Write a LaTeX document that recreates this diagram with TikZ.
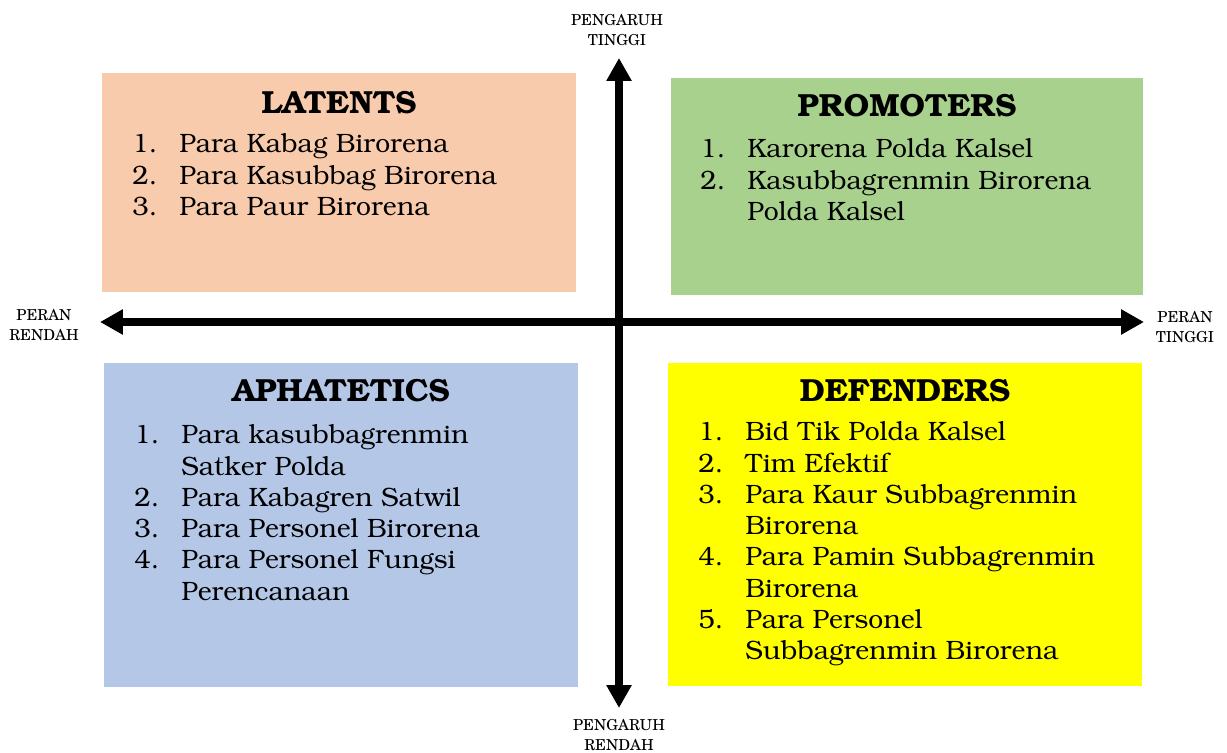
\documentclass[tikz,border=0pt]{standalone}
\usepackage[T1]{fontenc}
\usepackage{bookman}
\usepackage{xcolor}
\usetikzlibrary{arrows.meta,positioning}
\definecolor{latentfill}{HTML}{F8CBAD}
\definecolor{promotfill}{HTML}{A9D18E}
\definecolor{aphatfill}{HTML}{B4C7E7}
\definecolor{defendfill}{HTML}{FFFF00}
\newcommand{\nr}[1]{\makebox[0.94cm][l]{#1}}
\newcommand{\hang}{\hspace*{0.94cm}}
\begin{document}
\begin{tikzpicture}[x=0.02cm,y=-0.02cm,
    quad/.style={anchor=north west,inner sep=0pt,outer sep=0pt,minimum width=9.48cm},
    heading/.style={inner sep=0pt,font=\fontsize{18.2}{21}\selectfont\bfseries},
    items/.style={anchor=north west,align=left,inner sep=0pt,font=\fontsize{15.1}{17.8}\selectfont},
    axislabel/.style={align=center,inner sep=0pt,font=\fontfamily{pnc}\fontsize{8.6}{11.2}\selectfont},
    axis/.style={line width=4pt,{Triangle[length=0.46cm,width=0.48cm]}-{Triangle[length=0.46cm,width=0.48cm]}}]

    \useasboundingbox (0,0) rectangle (1227,753);

    % the four quadrants
    \node[quad,fill=latentfill,minimum height=4.38cm] (latent) at (102,73) {};
    \node[quad,fill=promotfill,minimum width=9.44cm,minimum height=4.34cm] (promot) at (671,78) {};
    \node[quad,fill=aphatfill,minimum height=6.48cm] (aphat) at (104,363) {};
    \node[quad,fill=defendfill,minimum height=6.46cm] (defend) at (668,363) {};

    % headings
    \node[heading] (tlatent) at (339,103) {LATENTS};
    \node[heading] (tpromot) at (907,106) {PROMOTERS};
    \node[heading] (taphat) at (341,391) {APHATETICS};
    \node[heading] (tdefend) at (905,391) {DEFENDERS};

    % lists
    \node[items] (llatent) at (132,134)
        {\nr{1.}Para Kabag Birorena\\
         \nr{2.}Para Kasubbag Birorena\\
         \nr{3.}Para Paur Birorena};
    \node[items] (lpromot) at (700,139)
        {\nr{1.}Karorena Polda Kalsel\\
         \nr{2.}Kasubbagrenmin Birorena\\
         \hang Polda Kalsel};
    \node[items] (laphat) at (134,425)
        {\nr{1.}Para kasubbagrenmin\\
         \hang Satker Polda\\
         \nr{2.}Para Kabagren Satwil\\
         \nr{3.}Para Personel Birorena\\
         \nr{4.}Para Personel Fungsi\\
         \hang Perencanaan};
    \node[items] (ldefend) at (698,422)
        {\nr{1.}Bid Tik Polda Kalsel\\
         \nr{2.}Tim Efektif\\
         \nr{3.}Para Kaur Subbagrenmin\\
         \hang Birorena\\
         \nr{4.}Para Pamin Subbagrenmin\\
         \hang Birorena\\
         \nr{5.}Para Personel\\
         \hang Subbagrenmin Birorena};

    % axes
    \coordinate (up) at (619,58);
    \coordinate (down) at (619,708);
    \coordinate (lft) at (100,322);
    \coordinate (rgt) at (1144,322);
    \draw[axis] (lft) -- (rgt);
    \draw[axis] (down) -- (up);

    \node[axislabel] (hiinf) at (617,30) {PENGARUH\\TINGGI};
    \node[axislabel] (loinf) at (619,735) {PENGARUH\\RENDAH};
    \node[axislabel] (lorole) at (44,325) {PERAN\\RENDAH};
    \node[axislabel] (hirole) at (1185,327) {PERAN\\TINGGI};

\end{tikzpicture}
\end{document}
